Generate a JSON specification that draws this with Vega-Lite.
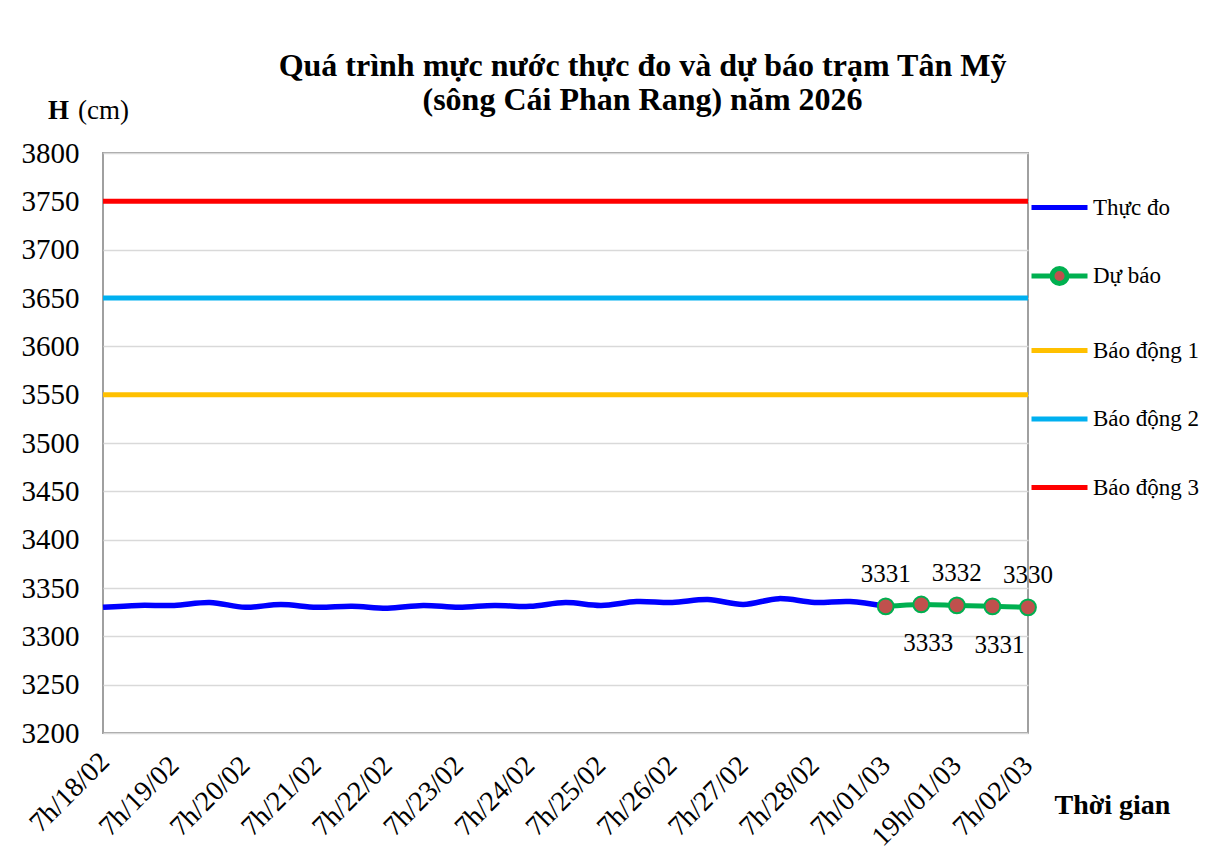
{
  "$schema": "https://vega.github.io/schema/vega-lite/v6.json",
  "autosize": "none",
  "width": 925,
  "height": 580,
  "padding": {"left": 103, "top": 153, "right": 186, "bottom": 128},
  "background": "white",
  "title": {
    "text": ["Quá trình mực nước thực đo và dự báo trạm Tân Mỹ", "(sông Cái Phan Rang) năm 2026"],
    "font": "Liberation Serif",
    "fontSize": 32,
    "fontWeight": "bold",
    "color": "black",
    "anchor": "middle",
    "frame": "group",
    "dx": 77,
    "offset": -21,
    "lineHeight": 34
  },
  "datasets": {
    "obs": [
      {"t": "7h/18/02", "series": "Thực đo", "value": 3330},
      {"t": "19h/18/02", "series": "Thực đo", "value": 3332},
      {"t": "7h/19/02", "series": "Thực đo", "value": 3332},
      {"t": "19h/19/02", "series": "Thực đo", "value": 3335},
      {"t": "7h/20/02", "series": "Thực đo", "value": 3330},
      {"t": "19h/20/02", "series": "Thực đo", "value": 3333},
      {"t": "7h/21/02", "series": "Thực đo", "value": 3330},
      {"t": "19h/21/02", "series": "Thực đo", "value": 3331},
      {"t": "7h/22/02", "series": "Thực đo", "value": 3329},
      {"t": "19h/22/02", "series": "Thực đo", "value": 3332},
      {"t": "7h/23/02", "series": "Thực đo", "value": 3330},
      {"t": "19h/23/02", "series": "Thực đo", "value": 3332},
      {"t": "7h/24/02", "series": "Thực đo", "value": 3331},
      {"t": "19h/24/02", "series": "Thực đo", "value": 3335},
      {"t": "7h/25/02", "series": "Thực đo", "value": 3332},
      {"t": "19h/25/02", "series": "Thực đo", "value": 3336},
      {"t": "7h/26/02", "series": "Thực đo", "value": 3335},
      {"t": "19h/26/02", "series": "Thực đo", "value": 3338},
      {"t": "7h/27/02", "series": "Thực đo", "value": 3333},
      {"t": "19h/27/02", "series": "Thực đo", "value": 3339},
      {"t": "7h/28/02", "series": "Thực đo", "value": 3335},
      {"t": "19h/28/02", "series": "Thực đo", "value": 3336},
      {"t": "7h/01/03", "series": "Thực đo", "value": 3331}
    ],
    "fc": [
      {"t": "7h/01/03", "series": "Dự báo", "value": 3331},
      {"t": "13h/01/03", "series": "Dự báo", "value": 3333},
      {"t": "19h/01/03", "series": "Dự báo", "value": 3332},
      {"t": "1h/02/03", "series": "Dự báo", "value": 3331},
      {"t": "7h/02/03", "series": "Dự báo", "value": 3330}
    ],
    "alarm": [
      {"series": "Báo động 1", "value": 3550},
      {"series": "Báo động 2", "value": 3650},
      {"series": "Báo động 3", "value": 3750}
    ],
    "firstlabel": [
      {"t": "7h/18/02"}
    ]
  },
  "layer": [
    {
      "data": {"name": "alarm"},
      "mark": {"type": "rule", "strokeWidth": 5},
      "encoding": {
        "y": {
          "field": "value", "type": "quantitative",
          "scale": {"domain": [3200, 3800], "nice": false, "zero": false},
          "axis": {
            "values": [3200, 3250, 3300, 3350, 3400, 3450, 3500, 3550, 3600, 3650, 3700, 3750, 3800],
            "format": "d",
            "domain": false, "ticks": false, "grid": true, "gridColor": "#D9D9D9", "gridWidth": 1.5,
            "labelFont": "Liberation Serif", "labelFontSize": 29, "labelColor": "black", "labelPadding": 24,
            "title": "H", "titleFont": "Liberation Serif", "titleFontSize": 27, "titleFontWeight": "bold",
            "titleColor": "black", "titleAngle": 0, "titleAlign": "center", "titleBaseline": "middle",
            "titleX": -45, "titleY": -43
          }
        },
        "color": {
          "field": "series", "type": "nominal",
          "scale": {
            "domain": ["Thực đo", "Dự báo", "Báo động 1", "Báo động 2", "Báo động 3"],
            "range": ["#0000FF", "#00B050", "#FFC000", "#00B0F0", "#FF0000"]
          },
          "legend": {
            "title": null, "orient": "none", "legendX": 926, "legendY": 24, "padding": 0,
            "symbolType": "stroke", "symbolSize": 3136, "symbolStrokeWidth": 5,
            "rowPadding": 25.5, "labelOffset": 3,
            "labelFont": "Liberation Serif", "labelFontSize": 23, "labelColor": "black",
            "encode": {
              "symbols": {
                "update": {
                  "shape": {"signal": "datum.value === 'Dự báo' ? 'M-1,0L-0.27,0M0.27,0L1,0M0.27,0A0.27,0.27,0,1,1,-0.27,0A0.27,0.27,0,1,1,0.27,0Z' : 'stroke'"},
                  "fill": {"signal": "datum.value === 'Dự báo' ? '#C0504D' : 'transparent'"}
                }
              }
            }
          }
        }
      }
    },
    {
      "data": {"name": "obs"},
      "mark": {"type": "line", "strokeWidth": 5.5, "interpolate": "catmull-rom"},
      "encoding": {
        "x": {
          "field": "t", "type": "ordinal",
          "scale": {
            "type": "point", "padding": 0,
            "domain": ["7h/18/02", "19h/18/02", "7h/19/02", "19h/19/02", "7h/20/02", "19h/20/02", "7h/21/02", "19h/21/02", "7h/22/02", "19h/22/02", "7h/23/02", "19h/23/02", "7h/24/02", "19h/24/02", "7h/25/02", "19h/25/02", "7h/26/02", "19h/26/02", "7h/27/02", "19h/27/02", "7h/28/02", "19h/28/02", "7h/01/03", "13h/01/03", "19h/01/03", "1h/02/03", "7h/02/03"]
          },
          "axis": {
            "values": ["7h/18/02", "7h/19/02", "7h/20/02", "7h/21/02", "7h/22/02", "7h/23/02", "7h/24/02", "7h/25/02", "7h/26/02", "7h/27/02", "7h/28/02", "7h/01/03", "19h/01/03", "7h/02/03"],
            "domain": false, "ticks": false, "grid": false,
            "labelOverlap": false, "labelBound": false, "labelFlush": false,
            "labelAngle": -45, "labelAlign": "right", "labelBaseline": "middle",
            "labelFont": "Liberation Serif", "labelFontSize": 28, "labelColor": "black",
            "labelPadding": 28,
            "title": "Thời gian", "titleFont": "Liberation Serif", "titleFontSize": 28, "titleFontWeight": "bold",
            "titleColor": "black", "titleAngle": 0, "titleAlign": "center", "titleBaseline": "middle",
            "titleX": 1009, "titleY": 72
          }
        },
        "y": {
          "field": "value", "type": "quantitative",
          "axis": {
            "orient": "left", "labels": false, "domain": false, "ticks": false, "grid": false,
            "title": "(cm)", "titleFont": "Liberation Serif", "titleFontSize": 27, "titleFontWeight": "normal",
            "titleColor": "black", "titleAngle": 0, "titleAlign": "center", "titleBaseline": "middle",
            "titleX": 0, "titleY": -43
          }
        },
        "color": {"field": "series", "type": "nominal"}
      }
    },
    {
      "data": {"name": "fc"},
      "mark": {"type": "line", "strokeWidth": 5, "interpolate": "catmull-rom"},
      "encoding": {
        "x": {"field": "t", "type": "ordinal"},
        "y": {"field": "value", "type": "quantitative", "axis": null},
        "color": {"field": "series", "type": "nominal"}
      }
    },
    {
      "data": {"name": "fc"},
      "mark": {"type": "point", "shape": "circle", "filled": true, "fill": "#C0504D", "stroke": "#00B050", "strokeWidth": 2, "size": 250, "opacity": 1},
      "encoding": {
        "x": {"field": "t", "type": "ordinal"},
        "y": {"field": "value", "type": "quantitative", "axis": null}
      }
    },
    {
      "data": {"name": "fc"},
      "transform": [{"filter": {"field": "t", "oneOf": ["7h/01/03", "19h/01/03", "7h/02/03"]}}],
      "mark": {"type": "text", "font": "Liberation Serif", "fontSize": 25, "color": "black", "dy": -32},
      "encoding": {
        "x": {"field": "t", "type": "ordinal"},
        "y": {"field": "value", "type": "quantitative", "axis": null},
        "text": {"field": "value", "type": "quantitative", "format": "d"}
      }
    },
    {
      "data": {"name": "fc"},
      "transform": [{"filter": {"field": "t", "oneOf": ["13h/01/03", "1h/02/03"]}}],
      "mark": {"type": "text", "font": "Liberation Serif", "fontSize": 25, "color": "black", "dy": 39, "dx": 7},
      "encoding": {
        "x": {"field": "t", "type": "ordinal"},
        "y": {"field": "value", "type": "quantitative", "axis": null},
        "text": {"field": "value", "type": "quantitative", "format": "d"}
      }
    },
    {
      "data": {"name": "firstlabel"},
      "mark": {"type": "text", "font": "Liberation Serif", "fontSize": 28, "color": "black", "angle": 315, "align": "right", "baseline": "middle", "dx": -16, "dy": 19},
      "encoding": {
        "x": {"field": "t", "type": "ordinal"},
        "y": {"datum": 3200, "type": "quantitative", "axis": null},
        "text": {"field": "t", "type": "nominal"}
      }
    }
  ],
  "resolve": {"axis": {"y": "independent"}},
  "config": {
    "view": {"stroke": "#A0A0A0", "strokeWidth": 2},
    "font": "Liberation Serif",
    "axis": {"labelFont": "Liberation Serif", "titleFont": "Liberation Serif"},
    "axisX": {"labelBound": 400, "labelOverlap": false},
    "text": {"font": "Liberation Serif"},
    "legend": {"labelFont": "Liberation Serif"}
  }
}
